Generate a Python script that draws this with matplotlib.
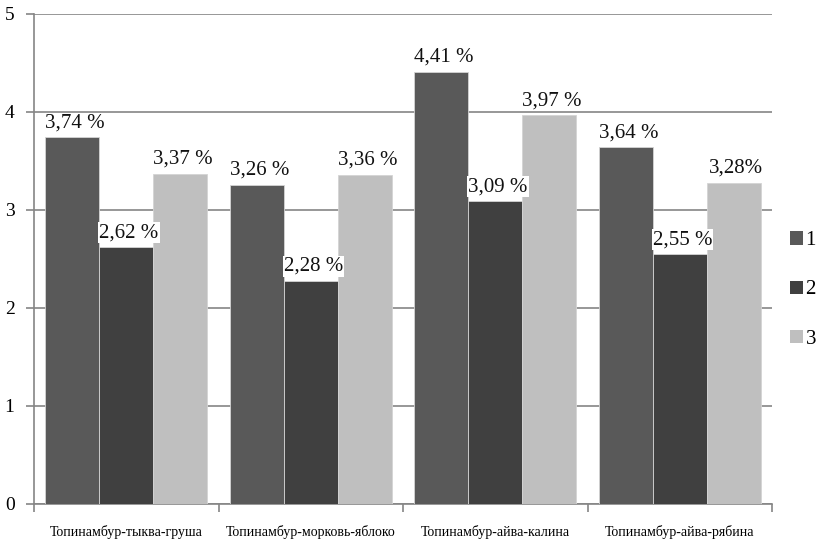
import numpy as np
import matplotlib
matplotlib.use("Agg")
import matplotlib.pyplot as plt
from matplotlib.patches import Patch

plt.rcParams['font.family'] = ['Liberation Serif', 'DejaVu Serif']

categories = ["Топинамбур-тыква-груша", "Топинамбур-морковь-яблоко",
              "Топинамбур-айва-калина", "Топинамбур-айва-рябина"]
series_names = ["1", "2", "3"]
series1 = [3.74, 3.26, 4.41, 3.64]
series2 = [2.62, 2.28, 3.09, 2.55]
series3 = [3.37, 3.36, 3.97, 3.28]
value_labels = [
    ["3,74 %", "3,26 %", "4,41 %", "3,64 %"],
    ["2,62 %", "2,28 %", "3,09 %", "2,55 %"],
    ["3,37 %", "3,36 %", "3,97 %", "3,28%"],
]
y_ticks = [0, 1, 2, 3, 4, 5]

colors = ["#595959", "#404040", "#bfbfbf"]
grid_col = "#858585"

fig = plt.figure(figsize=(8.17, 5.49), dpi=100)
ax = fig.add_axes([34 / 817, 1 - 504 / 549, (772 - 34) / 817, (504 - 14) / 549])

x = np.arange(len(categories))
width = 0.292
all_series = [series1, series2, series3]
for i, (vals, col) in enumerate(zip(all_series, colors)):
    pos = x + (i - 1) * width
    ax.bar(pos, vals, width, color=col, edgecolor="#d4d4d4", linewidth=0.6,
           zorder=3, label=series_names[i])
    for px, v, lab in zip(pos, vals, value_labels[i]):
        ax.annotate(lab, (px, v), xytext=(2, 3.5), textcoords="offset points",
                    ha="center", va="bottom", fontsize=15, color="#111111",
                    zorder=4,
                    bbox=dict(boxstyle="square,pad=0.05", fc="white", ec="none"))

ax.set_xlim(-0.5, len(categories) - 0.5)
ax.set_ylim(0, 5)
ax.set_yticks(y_ticks)
ax.set_yticklabels([str(t) for t in y_ticks], fontsize=14)

# group boundaries as major ticks, category names on minor ticks
ax.set_xticks(np.arange(-0.5, len(categories), 1.0))
ax.set_xticklabels([])
ax.set_xticks(x, minor=True)
ax.set_xticklabels(categories, minor=True, fontsize=10)
ax.tick_params(axis="x", which="major", length=6, width=1.2, color=grid_col,
               direction="out")
ax.tick_params(axis="x", which="minor", length=0, pad=15)
ax.tick_params(axis="y", length=6, width=1.2, color=grid_col, pad=8)

ax.yaxis.grid(True, color=grid_col, linewidth=1.2, zorder=0)
ax.set_axisbelow(True)
for side in ["top", "right"]:
    ax.spines[side].set_visible(False)
for side in ["left", "bottom"]:
    ax.spines[side].set_color(grid_col)
    ax.spines[side].set_linewidth(1.2)

handles = [Patch(facecolor=c, edgecolor="none") for c in colors]
fig.legend(handles, series_names, loc="center left",
           bbox_to_anchor=(790 / 817, 1 - 290 / 549), frameon=False,
           fontsize=15, handlelength=0.6, handleheight=0.6,
           handletextpad=0.15, labelspacing=1.45, borderpad=0, borderaxespad=0)

fig.savefig("out.png", dpi=100)
